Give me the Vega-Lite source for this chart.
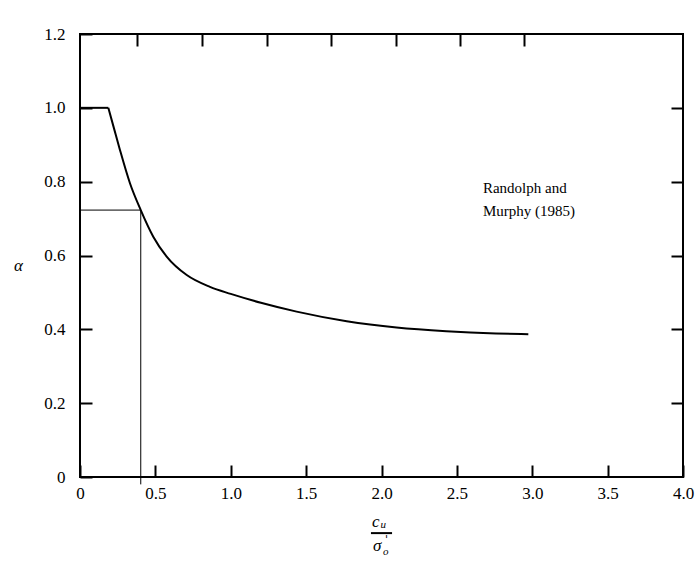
{
  "$schema": "https://vega.github.io/schema/vega-lite/v6.json",
  "width": 603,
  "height": 443,
  "autosize": "none",
  "padding": {"left": 80, "top": 34, "right": 15, "bottom": 84},
  "background": "white",
  "config": {
    "view": {"stroke": "black", "strokeWidth": 2},
    "axis": {
      "domain": false,
      "grid": false,
      "tickColor": "black",
      "tickWidth": 2,
      "tickSize": -12,
      "labelFont": "Liberation Serif",
      "labelFontSize": 17,
      "labelColor": "black",
      "titleColor": "black"
    }
  },
  "datasets": {
    "curve": [
      {"x": 0, "a": 1.0, "seg": "flat"},
      {"x": 0.188, "a": 1.0, "seg": "flat"},
      {"x": 0.188, "a": 1.0, "seg": "curve"},
      {"x": 0.225, "a": 0.945, "seg": "curve"},
      {"x": 0.265, "a": 0.886, "seg": "curve"},
      {"x": 0.332, "a": 0.795, "seg": "curve"},
      {"x": 0.403, "a": 0.723, "seg": "curve"},
      {"x": 0.486, "a": 0.651, "seg": "curve"},
      {"x": 0.575, "a": 0.597, "seg": "curve"},
      {"x": 0.708, "a": 0.547, "seg": "curve"},
      {"x": 0.862, "a": 0.515, "seg": "curve"},
      {"x": 1.0, "a": 0.496, "seg": "curve"},
      {"x": 1.2, "a": 0.472, "seg": "curve"},
      {"x": 1.437, "a": 0.448, "seg": "curve"},
      {"x": 1.769, "a": 0.422, "seg": "curve"},
      {"x": 2.1, "a": 0.405, "seg": "curve"},
      {"x": 2.43, "a": 0.395, "seg": "curve"},
      {"x": 2.76, "a": 0.389, "seg": "curve"},
      {"x": 2.974, "a": 0.387, "seg": "curve"}
    ],
    "guides": [
      {"x": 0, "x2": 0.403, "y": 0.723, "y2": 0.723},
      {"x": 0.403, "x2": 0.403, "y": -0.02, "y2": 0.723}
    ],
    "note": [
      {"x": 2.673, "y": 0.783, "t": "Randolph and"},
      {"x": 2.673, "y": 0.72, "t": "Murphy (1985)"}
    ],
    "fracBig": [
      {"x": 1.962, "y": -0.122, "t": "c"},
      {"x": 1.972, "y": -0.188, "t": "σ"}
    ],
    "fracSmall": [
      {"x": 2.012, "y": -0.13, "t": "u"},
      {"x": 2.028, "y": -0.204, "t": "o"}
    ],
    "prime": [
      {"x": 2.034, "y": -0.17, "t": "'"}
    ],
    "bar": [
      {"x": 1.93, "x2": 2.07, "y": -0.152}
    ]
  },
  "resolve": {"axis": {"x": "independent", "y": "independent"}},
  "layer": [
    {
      "data": {"name": "curve"},
      "mark": {"type": "line", "color": "black", "strokeWidth": 2, "interpolate": "monotone"},
      "encoding": {
        "x": {
          "field": "x", "type": "quantitative",
          "scale": {"domain": [0, 4], "nice": false, "zero": false},
          "axis": {
            "orient": "bottom", "title": null,
            "values": [0, 0.5, 1, 1.5, 2, 2.5, 3, 3.5, 4],
            "labelExpr": "datum.value == 0 ? '0' : format(datum.value, '.1f')",
            "labelPadding": 20,
            "labelFlush": false
          }
        },
        "y": {
          "field": "a", "type": "quantitative",
          "scale": {"domain": [0, 1.2], "nice": false, "zero": false},
          "axis": {
            "orient": "left",
            "values": [0, 0.2, 0.4, 0.6, 0.8, 1.0, 1.2],
            "labelExpr": "datum.value == 0 ? '0' : format(datum.value, '.1f')",
            "labelPadding": 27,
            "labelFlush": false,
            "title": "α",
            "titleAngle": 0,
            "titleFont": "Liberation Serif",
            "titleFontStyle": "italic",
            "titleFontWeight": "normal",
            "titleFontSize": 17,
            "titleX": -62,
            "titleY": 231,
            "titleAlign": "center",
            "titleBaseline": "middle"
          }
        },
        "detail": {"field": "seg"}
      }
    },
    {
      "data": {"name": "guides"},
      "mark": {"type": "rule", "color": "black", "strokeWidth": 1},
      "encoding": {
        "x": {
          "field": "x", "type": "quantitative",
          "axis": {
            "orient": "top", "title": null, "labels": false,
            "values": [0.378, 0.809, 1.24, 1.665, 2.096, 2.521, 2.945]
          }
        },
        "x2": {"field": "x2"},
        "y": {
          "field": "y", "type": "quantitative",
          "axis": {
            "orient": "right", "title": null, "labels": false,
            "values": [0.2, 0.4, 0.6, 0.8, 1.0]
          }
        },
        "y2": {"field": "y2"}
      }
    },
    {
      "data": {"name": "note"},
      "mark": {"type": "text", "font": "Liberation Serif", "fontSize": 15, "align": "left", "baseline": "middle", "color": "black"},
      "encoding": {
        "x": {"field": "x", "type": "quantitative", "axis": null},
        "y": {"field": "y", "type": "quantitative", "axis": null},
        "text": {"field": "t"}
      }
    },
    {
      "data": {"name": "fracBig"},
      "mark": {"type": "text", "font": "Liberation Serif", "fontSize": 17, "fontStyle": "italic", "align": "center", "baseline": "middle", "color": "black"},
      "encoding": {
        "x": {"field": "x", "type": "quantitative", "axis": null},
        "y": {"field": "y", "type": "quantitative", "axis": null},
        "text": {"field": "t"}
      }
    },
    {
      "data": {"name": "fracSmall"},
      "mark": {"type": "text", "font": "Liberation Serif", "fontSize": 11, "fontStyle": "italic", "align": "center", "baseline": "middle", "color": "black"},
      "encoding": {
        "x": {"field": "x", "type": "quantitative", "axis": null},
        "y": {"field": "y", "type": "quantitative", "axis": null},
        "text": {"field": "t"}
      }
    },
    {
      "data": {"name": "prime"},
      "mark": {"type": "text", "font": "DejaVu Serif", "fontSize": 11, "align": "center", "baseline": "middle", "color": "black"},
      "encoding": {
        "x": {"field": "x", "type": "quantitative", "axis": null},
        "y": {"field": "y", "type": "quantitative", "axis": null},
        "text": {"field": "t"}
      }
    },
    {
      "data": {"name": "bar"},
      "mark": {"type": "rule", "color": "black", "strokeWidth": 2},
      "encoding": {
        "x": {"field": "x", "type": "quantitative", "axis": null},
        "x2": {"field": "x2"},
        "y": {"field": "y", "type": "quantitative", "axis": null}
      }
    }
  ]
}
